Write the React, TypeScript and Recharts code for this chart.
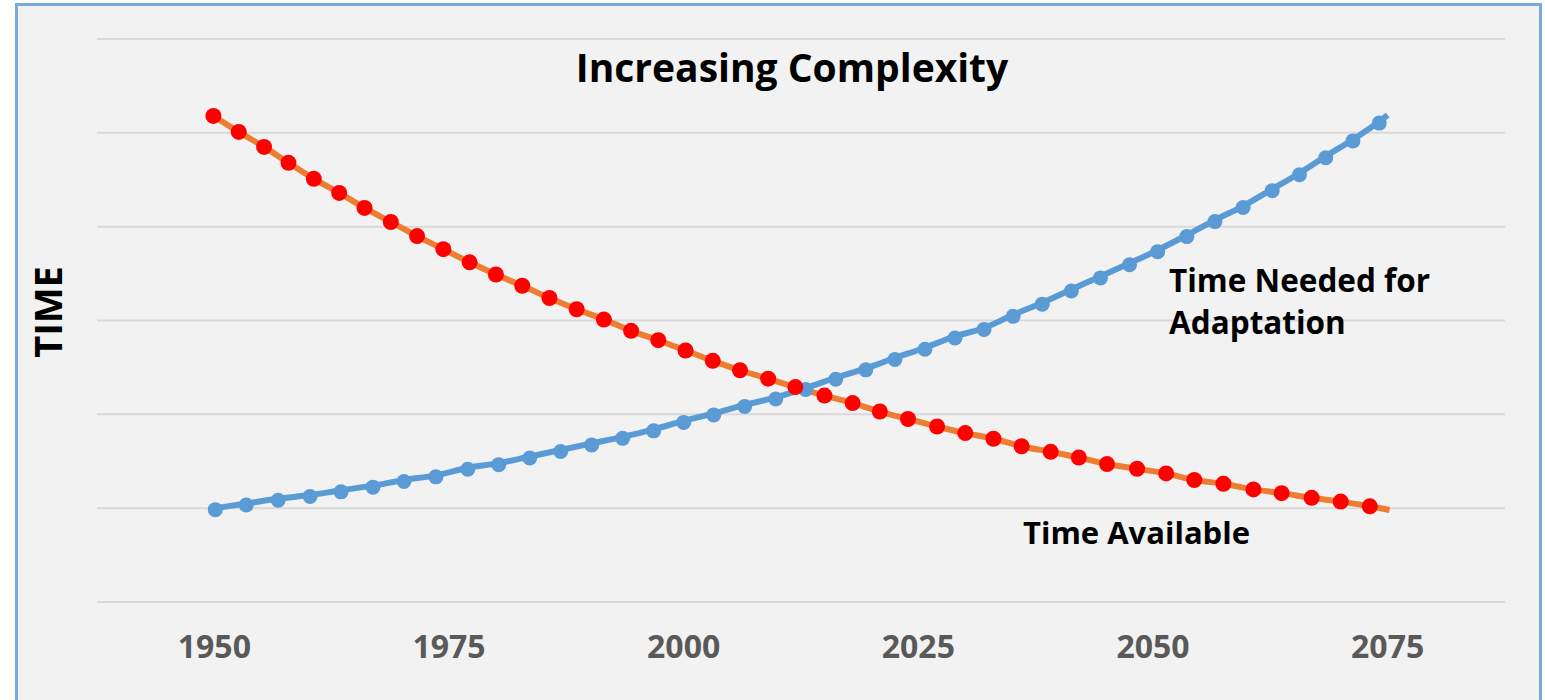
import {
  CartesianGrid,
  ComposedChart,
  Line,
  Scatter,
  XAxis,
  YAxis,
} from "recharts";

// Values (years on x, relative "time" units on y)
const availableYears = [
  1949.9, 1952.6, 1955.3, 1957.9, 1960.6, 1963.3, 1966.0, 1968.8, 1971.6, 1974.4,
  1977.2, 1980.0, 1982.8, 1985.7, 1988.6, 1991.5, 1994.4, 1997.3, 2000.2, 2003.1,
  2006.0, 2009.0, 2011.9, 2015.0, 2018.0, 2020.9, 2023.9, 2027.0, 2030.0, 2033.0,
  2036.0, 2039.1, 2042.1, 2045.1, 2048.3, 2051.4, 2054.4, 2057.5, 2060.7, 2063.7,
  2066.9, 2070.0, 2073.1,
];
const availableValues = [
  5.18, 5.01, 4.85, 4.68, 4.51, 4.36, 4.2, 4.05, 3.9, 3.76,
  3.62, 3.49, 3.37, 3.24, 3.12, 3.01, 2.89, 2.79, 2.68, 2.57,
  2.47, 2.38, 2.29, 2.2, 2.12, 2.03, 1.95, 1.87, 1.8, 1.74,
  1.66, 1.6, 1.54, 1.47, 1.42, 1.37, 1.3, 1.26, 1.2, 1.16,
  1.11, 1.07, 1.02,
];

const neededYears = [
  1950.1, 1953.4, 1956.8, 1960.2, 1963.5, 1966.9, 1970.2, 1973.6, 1977.0, 1980.3,
  1983.6, 1986.9, 1990.2, 1993.5, 1996.8, 2000.0, 2003.2, 2006.5, 2009.8, 2013.0,
  2016.2, 2019.4, 2022.5, 2025.7, 2028.9, 2032.0, 2035.1, 2038.2, 2041.3, 2044.4,
  2047.5, 2050.5, 2053.6, 2056.6, 2059.6, 2062.7, 2065.6, 2068.4, 2071.3, 2074.1,
];
const neededValues = [
  1.0, 1.05, 1.1, 1.14, 1.19, 1.24, 1.3, 1.35, 1.43, 1.48,
  1.55, 1.62, 1.69, 1.76, 1.84, 1.93, 2.01, 2.1, 2.18, 2.28,
  2.39, 2.49, 2.6, 2.71, 2.83, 2.92, 3.06, 3.19, 3.33, 3.47,
  3.61, 3.75, 3.91, 4.07, 4.22, 4.4, 4.57, 4.75, 4.93, 5.12,
];

// where the two drawn lines stop, just past the last marker: [available, needed]
const lineEndYears = [2075.2, 2075.0];
const lineEndValues = [0.98, 5.19];

const xTicks = [1950, 1975, 2000, 2025, 2050, 2075];
const yGrid = [0, 1, 2, 3, 4, 5, 6];

const available = availableYears.map((year, i) => ({ year, value: availableValues[i] }));
const needed = neededYears.map((year, i) => ({ year, value: neededValues[i] }));
const availableLine = [...available, { year: lineEndYears[0], value: lineEndValues[0] }];
const neededLine = [...needed, { year: lineEndYears[1], value: lineEndValues[1] }];

const FONT = "'Open Sans', 'DejaVu Sans', sans-serif";

export default function App() {
  return (
    <div style={{ position: "relative", width: 1545, height: 700, fontFamily: FONT }}>
      <style>{`html, body { margin: 0; overflow: hidden; }`}</style>
      {/* chart frame */}
      <div
        style={{
          position: "absolute",
          left: 15,
          top: 3,
          width: 1521,
          height: 720,
          border: "3px solid #7aa9dc",
          background: "#f2f2f2",
        }}
      />
      <div style={{ position: "absolute", left: 0, top: 0 }}>
        <ComposedChart
          width={1545}
          height={700}
          margin={{ top: 39, right: 40, bottom: 38, left: 97 }}
        >
          <CartesianGrid vertical={false} stroke="#d9d9d9" strokeWidth={2} />
          <XAxis
            type="number"
            dataKey="year"
            domain={[1937.5, 2087.5]}
            ticks={xTicks}
            axisLine={false}
            tickLine={false}
            height={60}
            tickMargin={27}
            tick={{ fill: "#595959", fontSize: 32, fontWeight: 700, fontFamily: FONT }}
          />
          <YAxis type="number" domain={[0, 6]} ticks={yGrid} hide />
          <Line
            data={availableLine}
            dataKey="value"
            type="monotone"
            stroke="#ed7d31"
            strokeWidth={6}
            dot={false}
            activeDot={false}
            isAnimationActive={false}
          />
          <Line
            data={neededLine}
            dataKey="value"
            type="monotone"
            stroke="#5b9bd5"
            strokeWidth={6}
            dot={false}
            activeDot={false}
            isAnimationActive={false}
          />
          <Scatter
            data={needed}
            dataKey="value"
            fill="#5b9bd5"
            shape={(p: any) => <circle cx={p.cx} cy={p.cy + 1.5} r={7.5} fill="#5b9bd5" />}
            isAnimationActive={false}
          />
          <Scatter
            data={available}
            dataKey="value"
            fill="#ff0000"
            shape={(p: any) => <circle cx={p.cx} cy={p.cy} r={8} fill="#ff0000" />}
            isAnimationActive={false}
          />
        </ComposedChart>
      </div>
      {/* titles and annotations */}
      <svg
        width={1545}
        height={700}
        style={{ position: "absolute", left: 0, top: 0, pointerEvents: "none" }}
        fontFamily={FONT}
        fontWeight={700}
      >
        <text x={792} y={82} fontSize={39} textAnchor="middle" fill="#000">
          Increasing Complexity
        </text>
        <text x={62} y={312} fontSize={38} textAnchor="middle" fill="#000" transform="rotate(-90 62 312)">
          TIME
        </text>
        <text x={1169} y={292} fontSize={31.5} fill="#000">
          Time Needed for
        </text>
        <text x={1169} y={334} fontSize={31.5} fill="#000">
          Adaptation
        </text>
        <text x={1023} y={544} fontSize={31} fill="#000">
          Time Available
        </text>
      </svg>
    </div>
  );
}
